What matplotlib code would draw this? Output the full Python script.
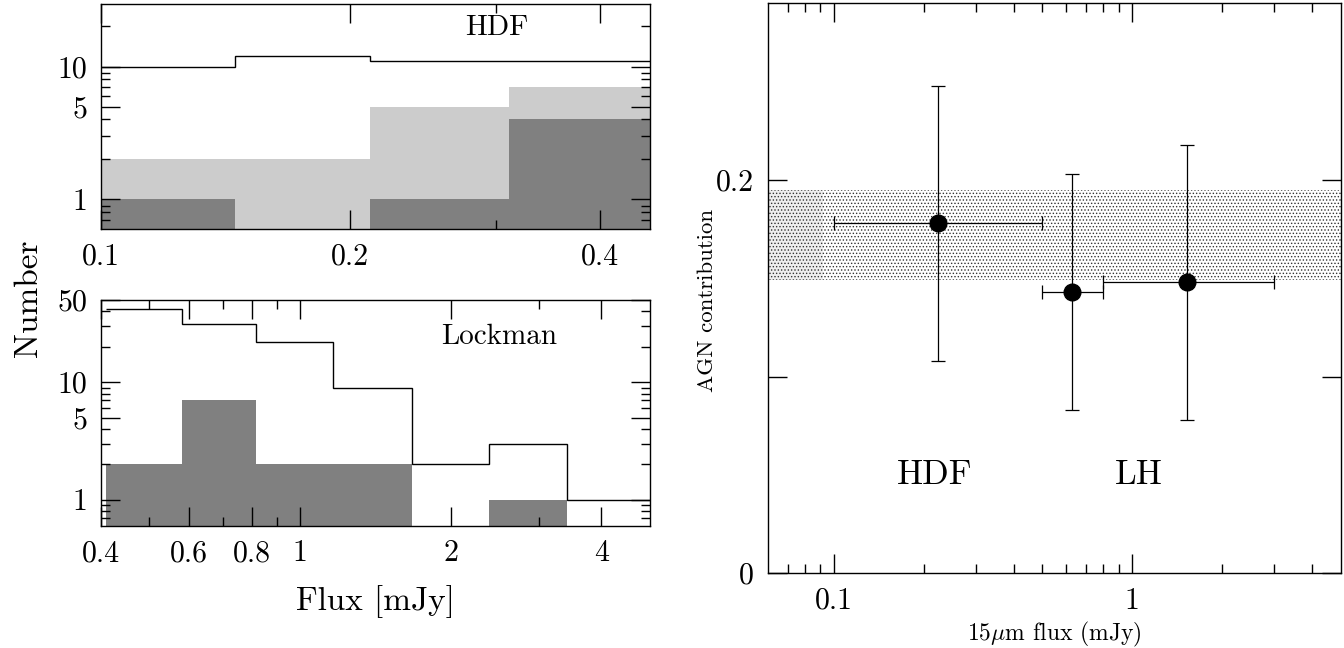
import matplotlib
matplotlib.use('Agg')
import matplotlib.pyplot as plt
from matplotlib.ticker import FixedLocator, FixedFormatter, NullFormatter, NullLocator
import numpy as np

plt.rcParams['font.family'] = ['cmr10', 'DejaVu Serif']
plt.rcParams['mathtext.fontset'] = 'cm'
plt.rcParams['axes.formatter.use_mathtext'] = True
plt.rcParams['hatch.linewidth'] = 0.6

# HDF histogram (counts per flux bin)
hdf_edges = [0.1, 0.145, 0.211, 0.311, 0.46]
hdf_total = [10, 12, 11, 11]
hdf_light = [2, 2, 5, 7]
hdf_dark = [1, 0, 1, 4]

# Lockman histogram
lock_edges = [0.41, 0.581, 0.817, 1.162, 1.675, 2.386, 3.41, 5.0]
lock_total = [42, 31, 22, 9, 2, 3, 1]
lock_dark = [2, 7, 2, 2, 0, 1, 0]

# AGN contribution vs 15um flux
agn_flux = [0.223, 0.627, 1.53]
agn_frac = [0.178, 0.143, 0.148]
flux_lo = [0.1, 0.5, 0.8]
flux_hi = [0.5, 0.8, 3.0]
frac_lo = [0.108, 0.083, 0.078]
frac_hi = [0.248, 0.203, 0.218]
band_lo, band_hi = 0.149, 0.195

LIGHT = '#cccccc'
DARK = '#808080'
TICK = 21.5


def fill_hist(ax, vals, edges, color):
    v = np.array(vals, dtype=float)
    v[v <= 0] = 0.01
    ax.stairs(v, edges, baseline=0.01, fill=True, color=color, lw=0)


def style(ax):
    ax.tick_params(which='both', direction='in', top=True, right=True,
                   labelsize=TICK, width=1.0)
    ax.tick_params(which='major', length=13.5, pad=10)
    ax.tick_params(which='minor', length=6.5)
    for s in ax.spines.values():
        s.set_linewidth(1.0)


def set_ticks(ax, axis, major, labels, minor):
    a = ax.xaxis if axis == 'x' else ax.yaxis
    a.set_major_locator(FixedLocator(major))
    a.set_major_formatter(FixedFormatter(labels))
    if minor:
        a.set_minor_locator(FixedLocator(minor))
    else:
        a.set_minor_locator(NullLocator())
    a.set_minor_formatter(NullFormatter())


fig = plt.figure(figsize=(13.44, 6.48), dpi=100)

# ---- top left: HDF
ax1 = fig.add_axes([0.0751, 0.6466, 0.4085, 0.3472])
ax1.set_xscale('log')
ax1.set_yscale('log')
fill_hist(ax1, hdf_light, hdf_edges, LIGHT)
fill_hist(ax1, hdf_dark, hdf_edges, DARK)
ax1.stairs(hdf_total, hdf_edges, baseline=None, color='k', lw=1.0)
ax1.set_xlim(0.1, 0.46)
ax1.set_ylim(0.6, 29.5)
style(ax1)
set_ticks(ax1, 'x', [0.1, 0.2, 0.4], ['0.1', '0.2', '0.4'], [0.3])
set_ticks(ax1, 'y', [1, 5, 10], ['1', '5', '10'],
          [0.7, 0.8, 0.9, 2, 3, 4, 6, 7, 8, 9, 20])
ax1.text(0.721, 0.892, 'HDF', transform=ax1.transAxes, ha='center',
         va='center', fontsize=21)

# ---- bottom left: Lockman
ax2 = fig.add_axes([0.0751, 0.1887, 0.4085, 0.3483])
ax2.set_xscale('log')
ax2.set_yscale('log')
fill_hist(ax2, lock_dark, lock_edges, DARK)
ax2.stairs(lock_total, lock_edges, baseline=None, color='k', lw=1.0)
ax2.set_xlim(0.4, 5.0)
ax2.set_ylim(0.6, 50)
style(ax2)
set_ticks(ax2, 'x', [0.4, 0.6, 0.8, 1, 2, 4],
          ['0.4', '0.6', '0.8', '1', '2', '4'], [0.5, 0.7, 0.9, 3])
set_ticks(ax2, 'y', [1, 5, 10, 50], ['1', '5', '10', '50'],
          [0.7, 0.8, 0.9, 2, 3, 4, 6, 7, 8, 9, 20, 30, 40])
ax2.text(0.725, 0.837, 'Lockman', transform=ax2.transAxes, ha='center',
         va='center', fontsize=21)

fig.text(28 / 1344, 1 - 298 / 648, 'Number', rotation=90, ha='center',
         va='center', fontsize=24)
fig.text(375 / 1344, 1 - 602 / 648, 'Flux [mJy]', ha='center',
         va='center', fontsize=24)

# ---- right: AGN contribution
ax3 = fig.add_axes([0.5714, 0.1153, 0.4261, 0.8796])
ax3.set_xscale('log')
ax3.fill_between([0.06, 0.092], band_lo, band_hi, facecolor='#efefef', lw=0)
ax3.axhspan(band_lo, band_hi, facecolor='none', edgecolor='#333333',
            hatch='.....', lw=0)
x = np.array(agn_flux)
y = np.array(agn_frac)
xerr = [x - np.array(flux_lo), np.array(flux_hi) - x]
yerr = [y - np.array(frac_lo), np.array(frac_hi) - y]
ax3.errorbar(x, y, xerr=xerr, yerr=yerr, fmt='o', color='k', ms=12,
             capsize=5, elinewidth=0.9, capthick=0.9)
ax3.set_xlim(0.06, 5)
ax3.set_ylim(0, 0.29)
style(ax3)
set_ticks(ax3, 'x', [0.1, 1], ['0.1', '1'],
          [0.07, 0.08, 0.09, 0.2, 0.3, 0.4, 0.5, 0.6, 0.7, 0.8, 0.9, 2, 3, 4])
set_ticks(ax3, 'y', [0, 0.1, 0.2], ['0', '', '0.2'], None)
ax3.text(0.218, 0.05, 'HDF', ha='center', va='center', fontsize=25)
ax3.text(1.056, 0.05, 'LH', ha='center', va='center', fontsize=25)

fig.text(707 / 1344, 1 - 300 / 648, 'AGN contribution', rotation=90,
         ha='center', va='center', fontsize=16.5)
fig.text(1054 / 1344, 1 - 634 / 648, r'15$\mu$m flux (mJy)', ha='center',
         va='center', fontsize=17)

fig.savefig('out.png', dpi=100)
